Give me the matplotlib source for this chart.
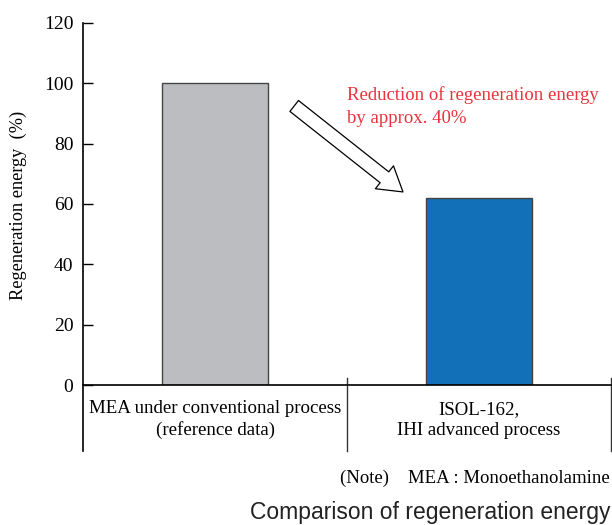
import matplotlib.pyplot as plt

categories = ["MEA under conventional process\n(reference data)", "ISOL-162,\nIHI advanced process"]
values = [100, 62]
bar_colors = ["#bcbdc0", "#1170b8"]
yticks = [0, 20, 40, 60, 80, 100, 120]

serif = "Liberation Serif"
plt.rcParams["font.family"] = serif

fig = plt.figure(figsize=(6.12, 5.25), dpi=100)
ax = fig.add_axes([83 / 612, 140 / 525, 528 / 612, 362 / 525])

xpos = [0.5, 1.5]
ax.bar(xpos, values, width=0.4, color=bar_colors, edgecolor="#444444", linewidth=1)

ax.set_xlim(0, 2)
ax.set_ylim(0, 120)
ax.set_yticks(yticks)
ax.tick_params(axis="y", direction="in", length=7, width=1, labelsize=14, pad=7)
ax.set_xticks([])
for s in ["top", "right", "left"]:
    ax.spines[s].set_visible(False)
ax.spines["bottom"].set_linewidth(1.2)

# axis lines and category separators extending below the axis
ax.plot([0, 0], [-22, 120], color="black", lw=1.2, clip_on=False)
ax.plot([1, 1], [2.3, -22], color="#333333", lw=1, clip_on=False)
ax.plot([2, 2], [2.3, -22], color="#333333", lw=1, clip_on=False)

for x, lab in zip(xpos, categories):
    ax.text(x, -11.5, lab, ha="center", va="center", fontsize=13.6,
            linespacing=1.3, clip_on=False)

# hollow block arrow
ax.annotate("", xy=(1.212, 64), xytext=(0.80, 92.5),
            arrowprops=dict(arrowstyle="simple,head_length=17,head_width=21,tail_width=10",
                            mutation_scale=1, fc="white", ec="black", lw=0.9,
                            shrinkA=0, shrinkB=0))

ax.text(1.0, 99.0, "Reduction of regeneration energy\nby approx. 40%", color="#e8323c",
        ha="left", va="top", fontsize=13.5, linespacing=1.45)

fig.text(18 / 612, 1 - 205 / 525, "Regeneration energy  (%)", rotation=90,
         ha="center", va="center", fontsize=13.2)
fig.text(610 / 612, 1 - 478 / 525, "(Note)    MEA : Monoethanolamine",
         ha="right", va="center", fontsize=13.5)
fig.text(610 / 612, 1 - 513 / 525, "Comparison of regeneration energy",
         ha="right", va="center", fontsize=16.5, family="Liberation Sans", color="#222222")

fig.savefig("out.png", dpi=100)
